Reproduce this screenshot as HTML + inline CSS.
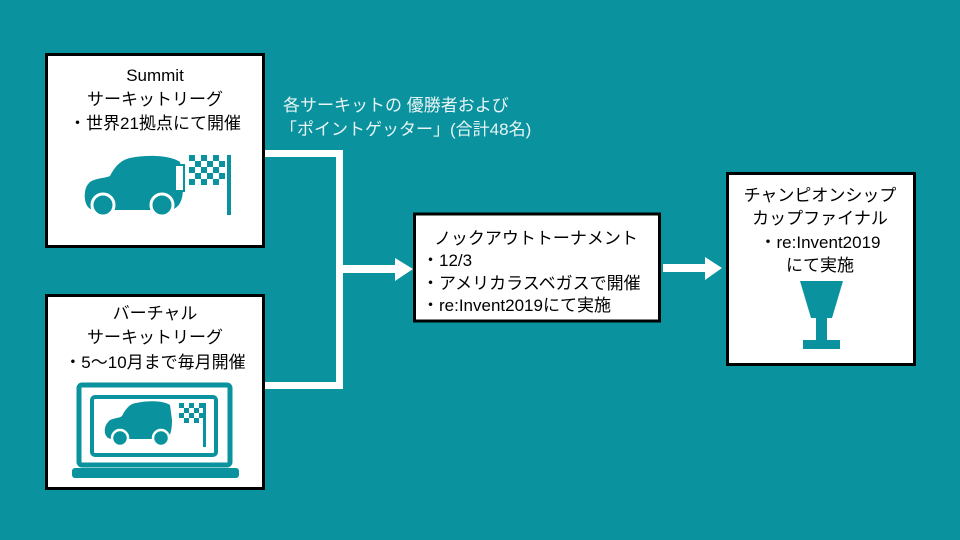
<!DOCTYPE html>
<html><head><meta charset="utf-8"><style>
html,body{margin:0;padding:0;width:960px;height:540px;overflow:hidden;background:#0a939e}
svg{display:block}
text{font-family:"Liberation Sans","Noto Sans CJK JP",sans-serif;font-size:17px;fill:#000}
</style></head><body>
<svg width="960" height="540" viewBox="0 0 960 540">
<rect width="960" height="540" fill="#0a939e"/>
<path d="M264 153.5 H339.5 V385.5 H264" fill="none" stroke="#fff" stroke-width="7"/>
<path d="M343 265 H395 V258 L413 269 L395 281 V273 H343 Z" fill="#fff"/>
<path d="M663 264 H705 V257 L722 268 L705 280 V272 H663 Z" fill="#fff"/>
<text x="283" y="111" style="fill:#e8f4f5">各サーキットの 優勝者および</text>
<text x="280" y="135" style="fill:#e8f4f5">「ポイントゲッター」(合計48名)</text>
<rect x="46.5" y="54.5" width="217" height="192" fill="#fff" stroke="#000" stroke-width="3"/>
<text x="155" y="81" text-anchor="middle">Summit</text>
<text x="155" y="105" text-anchor="middle">サーキットリーグ</text>
<text x="155" y="129" text-anchor="middle">・世界21拠点にて開催</text>
<g fill="#0a939e">
<path d="M90 182 C96 178 106 178 110 176 C114 168 120 160 130 158 C150 154 172 156 180 162 L183 180 C184 200 180 208 170 210 L95 210 C86 210 84 200 85 192 C86 186 88 184 90 182 Z"/>
<circle cx="103" cy="205" r="11" stroke="#fff" stroke-width="3"/>
<circle cx="162" cy="205" r="11" stroke="#fff" stroke-width="3"/>
<rect x="175" y="165" width="9" height="26" fill="#fff" stroke="#0a939e" stroke-width="2"/>
<rect x="227" y="155" width="4" height="60"/>
<path d="M189 155h6v6h-6zM201 155h6v6h-6zM213 155h6v6h-6zM195 161h6v6h-6zM207 161h6v6h-6zM219 161h6v6h-6zM189 167h6v6h-6zM201 167h6v6h-6zM213 167h6v6h-6zM195 173h6v6h-6zM207 173h6v6h-6zM219 173h6v6h-6zM189 179h6v6h-6zM201 179h6v6h-6zM213 179h6v6h-6z"/>
</g>
<rect x="46.5" y="295.5" width="217" height="193" fill="#fff" stroke="#000" stroke-width="3"/>
<text x="155" y="319" text-anchor="middle">バーチャル</text>
<text x="155" y="343" text-anchor="middle">サーキットリーグ</text>
<text x="155" y="368" text-anchor="middle">・5～10月まで毎月開催</text>
<g fill="#0a939e">
<rect x="79" y="385" width="151" height="80" rx="3" fill="none" stroke="#0a939e" stroke-width="5"/>
<rect x="92" y="397" width="124" height="58" rx="3" fill="none" stroke="#0a939e" stroke-width="4"/>
<rect x="72" y="468" width="167" height="10" rx="3"/>
<path d="M110 420 C114 418 120 418 122 416 C125 410 129 404 136 403 C150 400 164 401 170 405 L172 420 C172 432 170 438 164 439 L112 439 C106 439 104 433 105 428 C106 424 108 422 110 420 Z"/>
<circle cx="120" cy="438" r="8" stroke="#fff" stroke-width="2.5"/>
<circle cx="161" cy="438" r="8" stroke="#fff" stroke-width="2.5"/>
<rect x="203" y="403" width="3" height="44"/>
<path d="M179 403h5v5h-5zM189 403h5v5h-5zM199 403h4v5h-4zM184 408h5v5h-5zM194 408h5v5h-5zM179 413h5v5h-5zM189 413h5v5h-5zM199 413h4v5h-4zM184 418h5v5h-5zM194 418h5v5h-5z"/>
</g>
<rect x="414.5" y="214" width="245" height="107" fill="#fff" stroke="#000" stroke-width="3"/>
<text x="536" y="244" text-anchor="middle">ノックアウトトーナメント</text>
<text x="422" y="266">・12/3</text>
<text x="422" y="289">・アメリカラスベガスで開催</text>
<text x="422" y="311">・re:Invent2019にて実施</text>
<rect x="727.5" y="173.5" width="187" height="191" fill="#fff" stroke="#000" stroke-width="3"/>
<text x="820" y="201" text-anchor="middle">チャンピオンシップ</text>
<text x="820" y="224" text-anchor="middle">カップファイナル</text>
<text x="820" y="248" text-anchor="middle">・re:Invent2019</text>
<text x="820" y="271" text-anchor="middle">にて実施</text>
<g fill="#0a939e">
<path d="M800 281 H843 L832 318 H811 Z"/>
<rect x="816" y="318" width="11" height="24"/>
<rect x="803" y="340" width="37" height="9"/>
</g>
</svg>
</body></html>
